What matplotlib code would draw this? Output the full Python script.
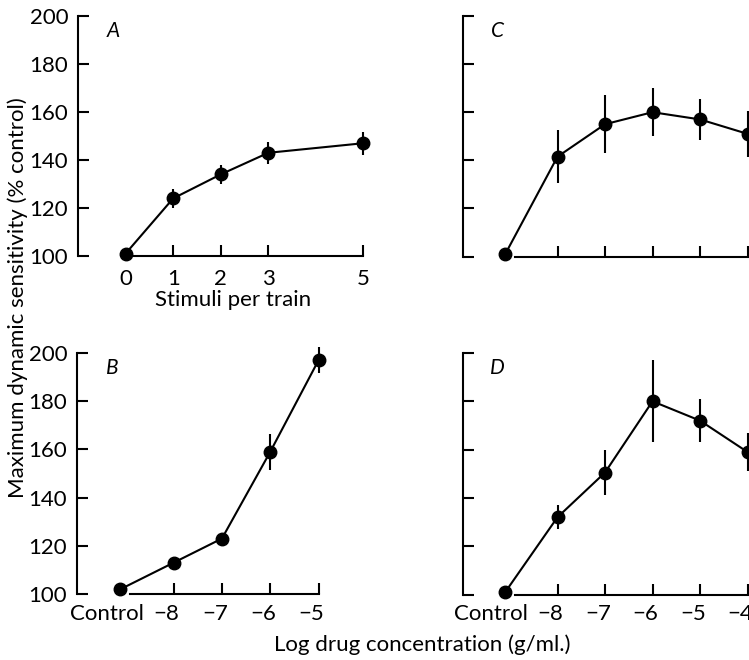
import matplotlib
matplotlib.use('Agg')
import matplotlib.pyplot as plt
from matplotlib.transforms import ScaledTranslation

plt.rcParams['font.family'] = ['Lato', 'DejaVu Sans']

# --- Data ---
CONTROL_POS = -9.1   # where the control point sits on the log-concentration axis

# A: stimuli per train
stim_x = [0, 1, 2, 3, 5]
stim_mean = [101, 124, 134, 143, 147]
stim_err = [0, 4, 4, 4.5, 4.8]
stim_ticks = [0, 1, 2, 3, 5]
stim_labels = ['0', '1', '2', '3', '5']

# B-D: log drug concentration (g/ml)
drug_b_x = [CONTROL_POS, -8, -7, -6, -5]
drug_b_mean = [102, 113, 123, 159, 197]
drug_b_err = [0, 0, 0, 7.5, 5.5]
drug_b_ticks = [CONTROL_POS, -8, -7, -6, -5]
drug_b_labels = ['Control', '\u22128', '\u22127', '\u22126', '\u22125']

drug_c_x = [CONTROL_POS, -8, -7, -6, -5, -4]
drug_c_mean = [101, 141.5, 155, 160, 157, 151]
drug_c_err = [0, 11, 12, 10, 8.5, 9.5]

drug_d_x = [CONTROL_POS, -8, -7, -6, -5, -4]
drug_d_mean = [101, 132, 150.5, 180, 172, 159]
drug_d_err = [0, 5, 9.5, 17, 9, 8]

drug_cd_ticks = [CONTROL_POS, -8, -7, -6, -5, -4]
drug_cd_labels = ['Control', '\u22128', '\u22127', '\u22126', '\u22125', '\u22124']

y_ticks = [100, 120, 140, 160, 180, 200]

# --- Layout (pixels on a 749x660 canvas) ---
W, H = 749, 660
DPI = 100
TICK_FS = 16
LABEL_FS = 16
LW = 1.5


def px_rect(left, top, right, bottom):
    return [left / W, 1 - bottom / H, (right - left) / W, (bottom - top) / H]


def draw_panel(fig, rect, x, mean, err, xticks, xlabels, xlim, axis_start,
               axis_end, letter, show_ylabels, xpad, shift_labels=False):
    ax = fig.add_axes(rect)
    ax.errorbar(x, mean, yerr=err, fmt='-o', color='black', lw=LW,
                ms=9, elinewidth=LW, capsize=0, clip_on=False, zorder=3)

    ax.set_xlim(*xlim)
    ax.set_ylim(100, 200)
    ax.set_facecolor('none')

    for side in ('top', 'right'):
        ax.spines[side].set_visible(False)
    ax.spines['left'].set_bounds(100, 200)
    ax.spines['bottom'].set_bounds(axis_start, axis_end)
    for side in ('left', 'bottom'):
        ax.spines[side].set_linewidth(LW)

    ax.set_yticks(y_ticks)
    ax.set_xticks(xticks)
    ax.set_xticklabels(xlabels)
    ax.tick_params(direction='in', length=8, width=LW, labelsize=TICK_FS)
    ax.tick_params(axis='y', pad=7, labelleft=show_ylabels)
    ax.tick_params(axis='x', pad=xpad)

    ticks = ax.xaxis.get_major_ticks()
    # no tick mark under the first point (0 / control)
    ticks[0].tick1line.set_visible(False)
    if shift_labels:
        # control label sits left of its point, negative labels put the digit over the tick
        for i, tick in enumerate(ticks):
            dx = -14 if i == 0 else -7
            lab = tick.label1
            lab.set_transform(lab.get_transform() +
                              ScaledTranslation(dx / DPI, 0, fig.dpi_scale_trans))

    ax.annotate(letter, xy=(0, 1), xycoords='axes fraction',
                xytext=(35, -15), textcoords='offset pixels',
                ha='center', va='center', fontsize=15, fontstyle='italic')
    return ax


fig = plt.figure(figsize=(W / DPI, H / DPI), dpi=DPI)

draw_panel(fig, px_rect(78, 16, 373, 256), stim_x, stim_mean, stim_err,
           stim_ticks, stim_labels, (-1, 5.2), 0.15, 5, 'A', True, 9)
draw_panel(fig, px_rect(77, 353, 328.2, 594), drug_b_x, drug_b_mean, drug_b_err,
           drug_b_ticks, drug_b_labels, (-10, -4.8), CONTROL_POS + 0.2, -5,
           'B', True, 7, shift_labels=True)
draw_panel(fig, px_rect(462.5, 16, 771.25, 256.5), drug_c_x, drug_c_mean, drug_c_err,
           drug_cd_ticks, ['' for _ in drug_cd_ticks], (-10, -3.5),
           CONTROL_POS + 0.2, -3.5, 'C', False, 7)
draw_panel(fig, px_rect(462.5, 353, 771.25, 594.5), drug_d_x, drug_d_mean, drug_d_err,
           drug_cd_ticks, drug_cd_labels, (-10, -3.5),
           CONTROL_POS + 0.2, -3.5, 'D', False, 7, shift_labels=True)

fig.text(18 / W, 1 - 298 / H, 'Maximum dynamic sensitivity (% control)',
         rotation=90, ha='center', va='center', fontsize=LABEL_FS)
fig.text(233 / W, 1 - 300 / H, 'Stimuli per train',
         ha='center', va='center', fontsize=LABEL_FS)
fig.text(422 / W, 1 - 645 / H, 'Log drug concentration (g/ml.)',
         ha='center', va='center', fontsize=LABEL_FS)

fig.savefig('out.png', dpi=DPI)
